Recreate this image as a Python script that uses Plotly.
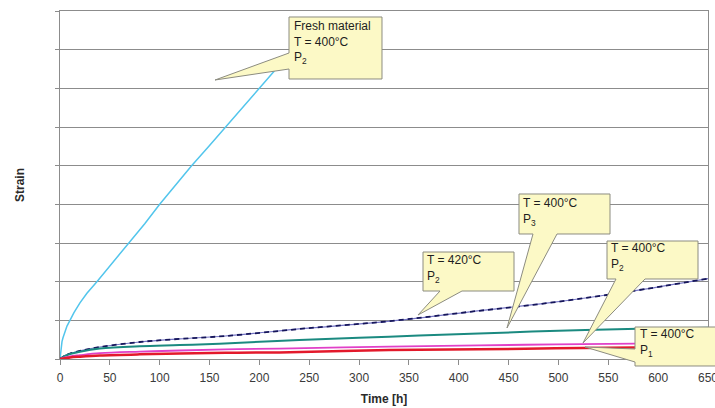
import plotly.graph_objects as go

# ---------------- data ----------------
fresh_x = [0, 1, 2, 3, 5, 7, 10, 14, 20, 27, 37, 50, 69, 85, 100, 116, 132, 150, 167, 185, 200, 215]
fresh_y = [0, 0.32, 0.45, 0.55, 0.71, 0.85, 1.0, 1.2, 1.45, 1.7, 2.0, 2.4, 3.0, 3.5, 4.0, 4.5, 5.0,
           5.52, 6.03, 6.55, 6.99, 7.45]

t420_x = [0, 5, 10, 20, 40, 80, 120, 166, 246, 331, 411, 490, 570, 650]
t420_y = [0, 0.09, 0.14, 0.21, 0.31, 0.44, 0.52, 0.595, 0.79, 0.98, 1.22, 1.45, 1.74, 2.08]

p3_x = [0, 5, 10, 20, 40, 80, 120, 160, 240, 330, 420, 500, 580, 650]
p3_y = [0, 0.08, 0.13, 0.19, 0.27, 0.33, 0.36, 0.395, 0.49, 0.577, 0.66, 0.73, 0.78, 0.81]

p2_x = [0, 5, 10, 20, 40, 80, 120, 166, 220, 330, 420, 497, 577]
p2_y = [0, 0.04, 0.07, 0.10, 0.15, 0.19, 0.22, 0.25, 0.27, 0.32, 0.35, 0.38, 0.40]

p1_x = [0, 5, 10, 20, 40, 80, 120, 166, 220, 330, 420, 497, 577]
p1_y = [0, 0.02, 0.04, 0.06, 0.09, 0.12, 0.14, 0.16, 0.17, 0.23, 0.25, 0.275, 0.30]

x_ticks = [0, 50, 100, 150, 200, 250, 300, 350, 400, 450, 500, 550, 600, 650]
y_grid = [0, 1, 2, 3, 4, 5, 6, 7, 8, 9]

# ---------------- layout geometry ----------------
W, H = 715, 408
ML, MR, MT, MB = 60, 7, 11, 49
PW, PH = W - ML - MR, H - MT - MB

def px2paper(px, py):
    return (px - ML) / PW, (H - MB - py) / PH

FONT = "Liberation Sans, Arial, sans-serif"

fig = go.Figure()
fig.add_trace(go.Scatter(x=fresh_x, y=fresh_y, mode="lines",
                         line=dict(color="#52c5ec", width=1.5)))
fig.add_trace(go.Scatter(x=t420_x, y=t420_y, mode="lines",
                         line=dict(color="#7474c4", width=1.2), line_shape="spline"))
fig.add_trace(go.Scatter(x=t420_x, y=t420_y, mode="lines",
                         line=dict(color="#16165a", width=1.8, dash="5px,4px"), line_shape="spline"))
fig.add_trace(go.Scatter(x=p3_x, y=p3_y, mode="lines",
                         line=dict(color="#1b8a80", width=2), line_shape="spline"))
fig.add_trace(go.Scatter(x=p2_x, y=p2_y, mode="lines",
                         line=dict(color="#e040c8", width=1.8), line_shape="spline"))
fig.add_trace(go.Scatter(x=p1_x, y=p1_y, mode="lines",
                         line=dict(color="#e3192b", width=2.5), line_shape="spline"))

# ---------------- callouts ----------------
callouts = [
    dict(box=(289, 17, 382, 79), side="left", base=(53, 69), tip=(215, 80),
         lines=["Fresh material", "T = 400°C", "P<sub>2</sub>"], tx=292, ty=[26, 42, 58]),
    dict(box=(423, 252, 514, 291), side="bottom", base=(440, 462), tip=(418, 315),
         lines=["T = 420°C", "P<sub>2</sub>"], tx=425, ty=[260, 277]),
    dict(box=(519, 194, 610, 234), side="bottom", base=(533, 557), tip=(507, 328),
         lines=["T = 400°C", "P<sub>3</sub>"], tx=521, ty=[203, 220]),
    dict(box=(607, 241, 698, 279), side="bottom", base=(616, 645), tip=(583, 343),
         lines=["T = 400°C", "P<sub>2</sub>"], tx=609, ty=[248, 265]),
    dict(box=(635, 327, 716, 366), side="left", base=(349, 362), tip=(585, 347),
         lines=["T = 400°C", "P<sub>1</sub>"], tx=638, ty=[334, 351]),
]

shapes = []
annotations = []
for c in callouts:
    x0, y0, x1, y1 = c["box"]
    tx, ty = c["tip"]
    b1, b2 = c["base"]
    if c["side"] == "bottom":
        pts = [(x0, y0), (x1, y0), (x1, y1), (b2, y1), (tx, ty), (b1, y1), (x0, y1)]
    else:
        pts = [(x0, y0), (x1, y0), (x1, y1), (x0, y1), (x0, b2), (tx, ty), (x0, b1)]
    path = ""
    for i, (px, py) in enumerate(pts):
        qx, qy = px2paper(px, py)
        path += ("M" if i == 0 else "L") + f"{qx:.5f},{qy:.5f} "
    path += "Z"
    shapes.append(dict(type="path", xref="paper", yref="paper", path=path,
                       fillcolor="#fcf9c6", line=dict(color="#8c8c80", width=1),
                       layer="above"))
    for txt, yy in zip(c["lines"], c["ty"]):
        qx, qy = px2paper(c["tx"], yy)
        annotations.append(dict(xref="paper", yref="paper", x=qx, y=qy, text=txt,
                                showarrow=False, xanchor="left", yanchor="middle",
                                font=dict(family=FONT, size=12, color="#1e1e1e")))

fig.update_layout(
    template="none",
    width=W, height=H,
    margin=dict(l=ML, r=MR, t=MT, b=MB, pad=0),
    paper_bgcolor="white", plot_bgcolor="white",
    showlegend=False,
    shapes=shapes, annotations=annotations,
    font=dict(family=FONT, size=12, color="#3a3a3a"),
)
fig.update_xaxes(
    range=[0, 650], tickvals=x_ticks, ticktext=[str(v) for v in x_ticks],
    ticks="outside", ticklen=5, tickcolor="#8c8c8c", tickwidth=1,
    ticklabeloverflow="allow", ticklabelstandoff=3,
    showgrid=False, zeroline=False,
    showline=True, linecolor="#8c8c8c", linewidth=1, mirror=True,
    tickfont=dict(family=FONT, size=12, color="#3a3a3a"),
    title=dict(text="<b>Time [h]</b>", font=dict(family=FONT, size=12, color="#2a2a2a"), standoff=10),
    automargin=False,
)
fig.update_yaxes(
    range=[0, 9], tickvals=y_grid, showticklabels=False,
    ticks="outside", ticklen=4, tickcolor="#8c8c8c", tickwidth=1,
    showgrid=True, gridcolor="#8c8c8c", gridwidth=1, zeroline=False,
    showline=True, linecolor="#8c8c8c", linewidth=1, mirror=True,
    title=dict(text="<b>Strain</b>", font=dict(family=FONT, size=12, color="#2a2a2a"), standoff=27),
    automargin=False,
)

fig.write_html("out.html")
